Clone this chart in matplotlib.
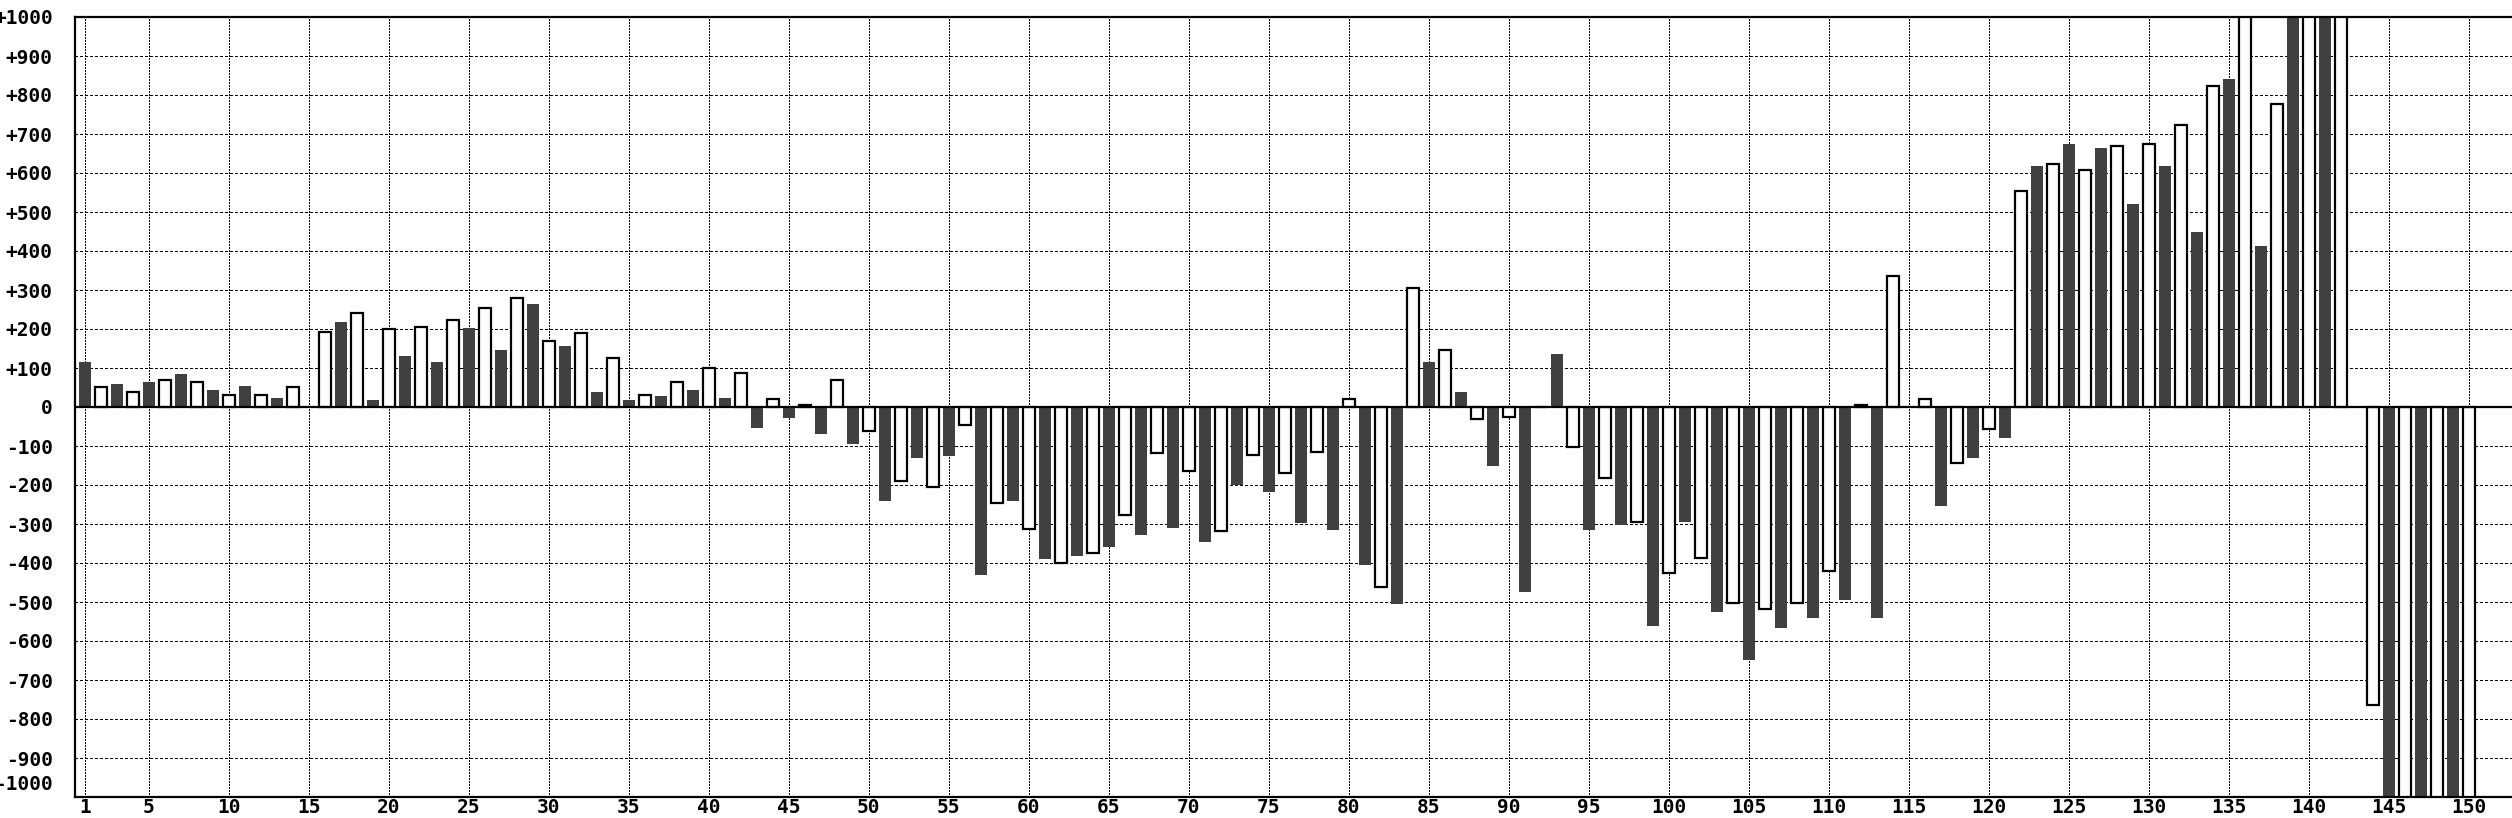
import matplotlib
matplotlib.use("Agg")
import matplotlib.pyplot as plt
from matplotlib.transforms import ScaledTranslation

# one value per period, odd periods are dark bars, even periods are white bars
periods = list(range(1, 151))
values = [
    116, 52, 59, 39, 64, 68, 84, 63, 43, 32,
    54, 32, 23, 52, 0, 193, 218, 242, 17, 201,
    131, 206, 115, 222, 202, 253, 146, 279, 264, 170,
    157, 191, 39, 125, 17, 32, 28, 63, 43, 99,
    23, 88, -54, 21, -27, 6, -68, 68, -94, -62,
    -242, -190, -130, -205, -125, -47, -432, -246, -242, -312,
    -391, -400, -382, -374, -360, -276, -329, -118, -309, -165,
    -345, -319, -201, -122, -217, -170, -297, -116, -315, 20,
    -406, -462, -505, 304, 115, 145, 39, -31, -150, -25,
    -474, 0, 135, -103, -315, -183, -303, -296, -561, -426,
    -295, -386, -525, -503, -648, -517, -566, -503, -541, -420,
    -494, 4, -541, 335, 0, 21, -253, -143, -130, -56,
    -79, 554, 619, 623, 675, 607, 664, 668, 521, 674,
    619, 724, 449, 822, 840, 1200, 412, 777, 1200, 1200,
    1200, 1200, 0, -763, -1200, -1200, -1200, -1200, -1200, -1200,
]

x_ticks = [1] + list(range(5, 151, 5))
y_ticks = list(range(-1000, 1001, 100))
y_labels = ["0" if v == 0 else f"{v:+d}" for v in y_ticks]

odd_x = [p for p in periods if p % 2 == 1]
odd_v = [v for p, v in zip(periods, values) if p % 2 == 1]
even_x = [p for p in periods if p % 2 == 0]
even_v = [v for p, v in zip(periods, values) if p % 2 == 0]

fig = plt.figure(figsize=(25.12, 8.18), dpi=100)
ax = fig.add_axes([75 / 2512, 21 / 818, (2512 - 75) / 2512, 780 / 818])

ax.bar(odd_x, odd_v, width=0.75, color="#404040", linewidth=0, zorder=2)
ax.bar(even_x, even_v, width=0.74, color="white", edgecolor="black", linewidth=1.6, zorder=2)
ax.axhline(0, color="black", linewidth=1.6, zorder=3)

ax.set_xlim(0.39, 152.7)
ax.set_ylim(-1000, 1000)
ax.set_xticks(x_ticks)
ax.set_xticklabels([str(t) for t in x_ticks])
ax.set_yticks(y_ticks)
ax.set_yticklabels(y_labels)

# dotted grid, vertical denser than horizontal
ax.set_axisbelow(True)
ax.xaxis.grid(True, color="black", linestyle=(0, (1, 1)), linewidth=1.0)
ax.yaxis.grid(True, color="black", linestyle=(0, (2, 2)), linewidth=1.0)
for gl in ax.xaxis.get_gridlines() + ax.yaxis.get_gridlines():
    gl.set_antialiased(False)

ax.tick_params(axis="both", length=0)
ax.tick_params(axis="y", pad=16)
ax.tick_params(axis="x", pad=1)
for lab in ax.get_xticklabels() + ax.get_yticklabels():
    lab.set_fontfamily("DejaVu Sans Mono")
    lab.set_fontweight("bold")
    lab.set_fontsize(14)

# lift the bottom label a bit so it stays inside the picture
bottom_lab = ax.yaxis.get_major_ticks()[0].label1
bottom_lab.set_transform(bottom_lab.get_transform() + ScaledTranslation(0, 0.15, fig.dpi_scale_trans))

for s in ["left", "top", "bottom"]:
    ax.spines[s].set_linewidth(1.6)
ax.spines["right"].set_visible(False)

fig.savefig("out.png", dpi=100)
